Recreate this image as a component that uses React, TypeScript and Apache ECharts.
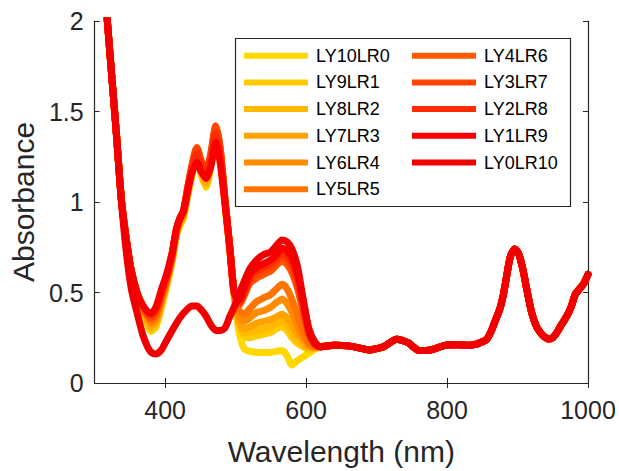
import React, { useEffect, useRef } from "react";
import * as echarts from "echarts";

const FONT = "Liberation Sans, Arial, Helvetica, sans-serif";

// wavelength grid for the region where the spectra differ
const headWavelengths = [312, 318, 325, 331, 338, 345, 352, 360, 368, 375, 380, 387, 395, 402, 410, 416, 421, 426, 432, 438, 445, 451, 458, 465, 472, 478, 485, 492, 498, 505, 512, 520, 530, 540, 550, 558, 566, 573, 580, 588, 596, 604, 612];

// shared tail (all spectra coincide here)
const tailWavelengths = [620, 640, 660, 680, 690, 700, 710, 720, 728, 736, 745, 752, 760, 770, 780, 790, 800, 810, 820, 830, 840, 850, 856, 862, 868, 875, 880, 885, 890, 896, 902, 908, 914, 920, 926, 932, 938, 944, 950, 956, 962, 970, 976, 982, 988, 994, 1000];
const tailValues = [0.2, 0.208, 0.205, 0.19, 0.182, 0.19, 0.2, 0.225, 0.242, 0.236, 0.222, 0.2, 0.18, 0.18, 0.186, 0.2, 0.21, 0.212, 0.21, 0.208, 0.213, 0.228, 0.24, 0.28, 0.34, 0.41, 0.49, 0.6, 0.7, 0.74, 0.71, 0.62, 0.5, 0.39, 0.32, 0.28, 0.255, 0.243, 0.25, 0.28, 0.32, 0.37, 0.42, 0.49, 0.52, 0.55, 0.6];

const LY10LR0 = [2.3, 2.0, 1.66, 1.37, 1.01, 0.79, 0.62, 0.5, 0.4, 0.32, 0.285, 0.31, 0.42, 0.53, 0.67, 0.81, 0.87, 0.91, 1.03, 1.15, 1.25, 1.15, 1.08, 1.2, 1.36, 1.24, 0.98, 0.72, 0.48, 0.28, 0.19, 0.175, 0.17, 0.168, 0.17, 0.175, 0.18, 0.15, 0.1, 0.125, 0.145, 0.165, 0.185];
const LY9LR1 = [2.3, 2.0, 1.66, 1.37, 1.01, 0.79, 0.62, 0.5, 0.405, 0.33, 0.295, 0.32, 0.43, 0.54, 0.68, 0.82, 0.88, 0.92, 1.04, 1.16, 1.26, 1.16, 1.09, 1.21, 1.37, 1.25, 0.99, 0.72, 0.48, 0.31, 0.26, 0.25, 0.26, 0.27, 0.28, 0.3, 0.31, 0.29, 0.25, 0.22, 0.2, 0.185, 0.19];
const LY8LR2 = [2.3, 2.0, 1.66, 1.37, 1.01, 0.79, 0.62, 0.5, 0.41, 0.34, 0.305, 0.33, 0.44, 0.545, 0.68, 0.82, 0.88, 0.92, 1.04, 1.16, 1.26, 1.17, 1.1, 1.22, 1.38, 1.26, 0.99, 0.73, 0.49, 0.33, 0.28, 0.28, 0.29, 0.3, 0.31, 0.33, 0.345, 0.32, 0.28, 0.24, 0.21, 0.19, 0.19];
const LY7LR3 = [2.3, 2.0, 1.66, 1.37, 1.01, 0.79, 0.62, 0.5, 0.415, 0.35, 0.315, 0.34, 0.45, 0.55, 0.69, 0.83, 0.89, 0.93, 1.05, 1.17, 1.27, 1.18, 1.11, 1.23, 1.39, 1.27, 1.0, 0.73, 0.49, 0.34, 0.3, 0.31, 0.33, 0.34, 0.35, 0.365, 0.38, 0.36, 0.32, 0.27, 0.23, 0.2, 0.195];
const LY6LR4 = [2.3, 2.0, 1.66, 1.37, 1.01, 0.79, 0.62, 0.5, 0.415, 0.36, 0.33, 0.355, 0.46, 0.56, 0.7, 0.84, 0.9, 0.94, 1.06, 1.18, 1.28, 1.2, 1.13, 1.24, 1.4, 1.28, 1.0, 0.74, 0.5, 0.37, 0.34, 0.36, 0.39, 0.4, 0.42, 0.445, 0.463, 0.44, 0.39, 0.31, 0.25, 0.21, 0.2];
const LY5LR5 = [2.3, 2.0, 1.66, 1.37, 1.01, 0.79, 0.62, 0.5, 0.42, 0.37, 0.34, 0.37, 0.47, 0.565, 0.7, 0.84, 0.9, 0.94, 1.07, 1.19, 1.29, 1.21, 1.14, 1.25, 1.41, 1.29, 1.01, 0.74, 0.5, 0.4, 0.38, 0.41, 0.45, 0.47, 0.49, 0.52, 0.545, 0.52, 0.46, 0.37, 0.28, 0.22, 0.2];
const LY4LR6 = [2.3, 2.0, 1.66, 1.37, 1.01, 0.79, 0.62, 0.5, 0.42, 0.375, 0.355, 0.385, 0.48, 0.575, 0.71, 0.85, 0.91, 0.95, 1.08, 1.2, 1.3, 1.22, 1.16, 1.27, 1.42, 1.3, 1.01, 0.74, 0.5, 0.43, 0.48, 0.55, 0.58, 0.6, 0.62, 0.65, 0.675, 0.655, 0.61, 0.52, 0.39, 0.26, 0.21];
const LY3LR7 = [2.3, 2.0, 1.66, 1.37, 1.01, 0.79, 0.62, 0.5, 0.425, 0.38, 0.365, 0.395, 0.49, 0.58, 0.71, 0.85, 0.91, 0.95, 1.08, 1.2, 1.3, 1.23, 1.17, 1.27, 1.42, 1.3, 1.01, 0.74, 0.5, 0.44, 0.49, 0.56, 0.6, 0.62, 0.64, 0.67, 0.695, 0.675, 0.63, 0.54, 0.41, 0.27, 0.215];
const LY2LR8 = [2.3, 2.0, 1.66, 1.37, 1.01, 0.79, 0.62, 0.5, 0.43, 0.39, 0.375, 0.405, 0.505, 0.59, 0.72, 0.85, 0.91, 0.95, 1.07, 1.18, 1.27, 1.2, 1.15, 1.24, 1.38, 1.27, 1.0, 0.74, 0.5, 0.45, 0.5, 0.58, 0.62, 0.64, 0.66, 0.69, 0.72, 0.7, 0.66, 0.57, 0.43, 0.28, 0.22];
const LY1LR9 = [2.3, 2.0, 1.66, 1.37, 1.01, 0.79, 0.62, 0.5, 0.43, 0.395, 0.385, 0.42, 0.52, 0.6, 0.72, 0.85, 0.91, 0.95, 1.06, 1.16, 1.22, 1.17, 1.13, 1.2, 1.33, 1.22, 0.99, 0.74, 0.5, 0.46, 0.52, 0.6, 0.64, 0.66, 0.68, 0.71, 0.745, 0.73, 0.69, 0.6, 0.45, 0.29, 0.22];
const LY0LR10 = [2.3, 2.0, 1.66, 1.36, 1.0, 0.72, 0.52, 0.39, 0.27, 0.2, 0.17, 0.16, 0.185, 0.235, 0.29, 0.33, 0.36, 0.385, 0.41, 0.425, 0.425, 0.405, 0.37, 0.32, 0.29, 0.29, 0.305, 0.37, 0.42, 0.49, 0.56, 0.63, 0.68, 0.71, 0.725, 0.76, 0.79, 0.78, 0.74, 0.64, 0.46, 0.3, 0.23];

const seriesNames = ["LY10LR0", "LY9LR1", "LY8LR2", "LY7LR3", "LY6LR4", "LY5LR5", "LY4LR6", "LY3LR7", "LY2LR8", "LY1LR9", "LY0LR10"];
const seriesValues = [LY10LR0, LY9LR1, LY8LR2, LY7LR3, LY6LR4, LY5LR5, LY4LR6, LY3LR7, LY2LR8, LY1LR9, LY0LR10];
const seriesColors = ["#FFD800", "#FFCA00", "#FFB900", "#FFA300", "#FF8C00", "#FF7300", "#FF5A00", "#FF4600", "#FF2C00", "#F80000", "#F00000"];

const xTicks = [400, 600, 800, 1000];

export default function App() {
  const ref = useRef<HTMLDivElement>(null);
  useEffect(() => {
    if (!ref.current) return;
    const chart = echarts.init(ref.current, null, { renderer: "svg" });
    const axisColor = "#262626";
    const series = seriesNames.map((name, k) => ({
      name,
      type: "line",
      showSymbol: false,
      symbol: "none",
      smooth: 0.25,
      clip: true,
      color: seriesColors[k],
      lineStyle: { width: 7, color: seriesColors[k], join: "round", cap: "round" },
      data: [
        ...headWavelengths.map((w, i) => [w, seriesValues[k][i]]),
        ...tailWavelengths.map((w, i) => [w, tailValues[i]]),
      ],
      z: 2,
    }));
    const legendCommon = {
      orient: "vertical",
      top: 46.7,
      padding: 0,
      icon: "rect",
      itemWidth: 64,
      itemHeight: 6,
      itemGap: 8.7,
      z: 6,
      textStyle: { fontSize: 18, lineHeight: 18, fontFamily: FONT, color: "#000", padding: [0, 0, 0, 3] },
    };
    chart.setOption({
      animation: false,
      backgroundColor: "#fff",
      grid: { left: 93, right: 31, top: 21, bottom: 87 },
      xAxis: [
        {
          type: "value",
          min: 300,
          max: 1000,
          position: "bottom",
          axisLine: { show: true, lineStyle: { color: axisColor, width: 1.2 } },
          axisTick: { show: true, inside: true, length: 5, customValues: xTicks, lineStyle: { color: axisColor } },
          axisLabel: { customValues: xTicks, formatter: (v: number) => String(v), fontSize: 25, fontFamily: FONT, color: axisColor, margin: 14 },
          splitLine: { show: false },
          name: "Wavelength (nm)",
          nameLocation: "middle",
          nameGap: 53,
          nameTextStyle: { fontSize: 30, fontFamily: FONT, color: axisColor },
        },
        {
          type: "value",
          min: 300,
          max: 1000,
          position: "top",
          axisLine: { show: true, lineStyle: { color: axisColor, width: 1.2 } },
          axisTick: { show: true, inside: true, length: 5, customValues: xTicks, lineStyle: { color: axisColor } },
          axisLabel: { show: false },
          splitLine: { show: false },
        },
      ],
      yAxis: [
        {
          type: "value",
          min: 0,
          max: 2,
          interval: 0.5,
          position: "left",
          axisLine: { show: true, lineStyle: { color: axisColor, width: 1.2 } },
          axisTick: { show: true, inside: true, length: 5, lineStyle: { color: axisColor } },
          axisLabel: { fontSize: 25, fontFamily: FONT, color: axisColor, margin: 11 },
          splitLine: { show: false },
          name: "Absorbance",
          nameLocation: "middle",
          nameGap: 55,
          nameTextStyle: { fontSize: 30, fontFamily: FONT, color: axisColor },
        },
        {
          type: "value",
          min: 0,
          max: 2,
          interval: 0.5,
          position: "right",
          axisLine: { show: true, lineStyle: { color: axisColor, width: 1.2 } },
          axisTick: { show: true, inside: true, length: 5, lineStyle: { color: axisColor } },
          axisLabel: { show: false },
          splitLine: { show: false },
        },
      ],
      legend: [
        { ...legendCommon, left: 244, data: seriesNames.slice(0, 6) },
        { ...legendCommon, left: 412, data: seriesNames.slice(6) },
      ],
      graphic: [
        {
          type: "rect",
          z: 5,
          shape: { x: 235.5, y: 38.5, width: 335, height: 168 },
          style: { fill: "#fff", stroke: axisColor, lineWidth: 1.2 },
        },
      ],
      series,
    });
    return () => chart.dispose();
  }, []);
  return <div ref={ref} style={{ position: "fixed", left: 0, top: 0, width: 619, height: 471 }} />;
}
